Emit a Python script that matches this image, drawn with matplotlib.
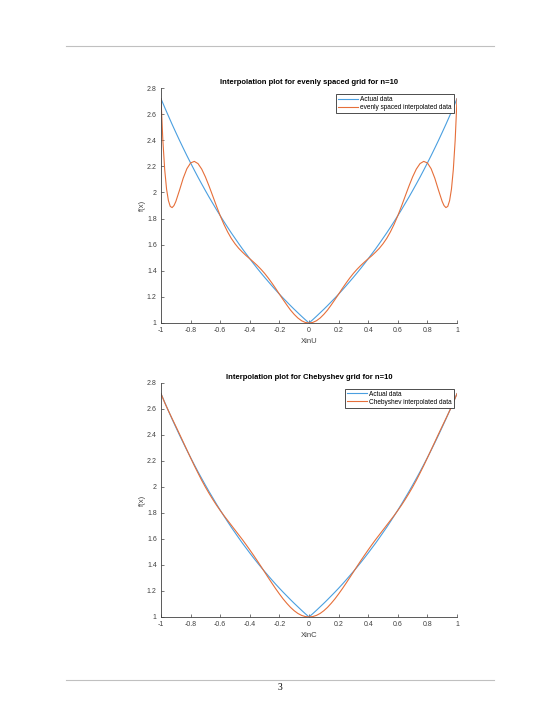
import matplotlib.pyplot as plt
from matplotlib.ticker import FuncFormatter

# sample positions for the actual function and the Chebyshev interpolant
x_fine = [-1.0, -0.975, -0.95, -0.925, -0.9, -0.875, -0.85, -0.825, -0.8, -0.775,
          -0.75, -0.725, -0.7, -0.675, -0.65, -0.625, -0.6, -0.575, -0.55, -0.525,
          -0.5, -0.475, -0.45, -0.425, -0.4, -0.375, -0.35, -0.325, -0.3, -0.275,
          -0.25, -0.225, -0.2, -0.175, -0.15, -0.125, -0.1, -0.075, -0.05, -0.025,
          0.0, 0.025, 0.05, 0.075, 0.1, 0.125, 0.15, 0.175, 0.2, 0.225,
          0.25, 0.275, 0.3, 0.325, 0.35, 0.375, 0.4, 0.425, 0.45, 0.475,
          0.5, 0.525, 0.55, 0.575, 0.6, 0.625, 0.65, 0.675, 0.7, 0.725,
          0.75, 0.775, 0.8, 0.825, 0.85, 0.875, 0.9, 0.925, 0.95, 0.975, 1.0]

actual = [2.718, 2.651, 2.586, 2.522, 2.460, 2.399, 2.340, 2.282, 2.226, 2.171,
          2.117, 2.065, 2.014, 1.964, 1.916, 1.868, 1.822, 1.777, 1.733, 1.690,
          1.649, 1.608, 1.568, 1.530, 1.492, 1.455, 1.419, 1.384, 1.350, 1.317,
          1.284, 1.252, 1.221, 1.191, 1.162, 1.133, 1.105, 1.078, 1.051, 1.025,
          1.000, 1.025, 1.051, 1.078, 1.105, 1.133, 1.162, 1.191, 1.221, 1.252,
          1.284, 1.317, 1.350, 1.384, 1.419, 1.455, 1.492, 1.530, 1.568, 1.608,
          1.649, 1.690, 1.733, 1.777, 1.822, 1.868, 1.916, 1.964, 2.014, 2.065,
          2.117, 2.171, 2.226, 2.282, 2.340, 2.399, 2.460, 2.522, 2.586, 2.651, 2.718]

cheb_interp = [2.718, 2.648, 2.586, 2.526, 2.467, 2.407, 2.346, 2.285, 2.224, 2.164,
               2.107, 2.051, 1.999, 1.950, 1.904, 1.860, 1.819, 1.780, 1.743, 1.706,
               1.669, 1.632, 1.595, 1.556, 1.516, 1.475, 1.433, 1.390, 1.346, 1.302,
               1.259, 1.217, 1.177, 1.139, 1.105, 1.074, 1.048, 1.027, 1.012, 1.003,
               1.000, 1.003, 1.012, 1.027, 1.048, 1.074, 1.105, 1.139, 1.177, 1.217,
               1.259, 1.302, 1.346, 1.390, 1.433, 1.475, 1.516, 1.556, 1.595, 1.632,
               1.669, 1.706, 1.743, 1.780, 1.819, 1.860, 1.904, 1.950, 1.999, 2.051,
               2.107, 2.164, 2.224, 2.285, 2.346, 2.407, 2.467, 2.526, 2.586, 2.648, 2.718]

# evenly spaced interpolant, sampled a bit finer near the ends
x_even = [-1.0, -0.9875, -0.975, -0.9625, -0.95, -0.9375, -0.925, -0.9125, -0.9,
          -0.875, -0.85, -0.825, -0.8, -0.775, -0.75, -0.725, -0.7, -0.675, -0.65,
          -0.625, -0.6, -0.575, -0.55, -0.525, -0.5, -0.475, -0.45, -0.425, -0.4,
          -0.375, -0.35, -0.325, -0.3, -0.275, -0.25, -0.225, -0.2, -0.175, -0.15,
          -0.125, -0.1, -0.075, -0.05, -0.025, 0.0, 0.025, 0.05, 0.075, 0.1,
          0.125, 0.15, 0.175, 0.2, 0.225, 0.25, 0.275, 0.3, 0.325, 0.35,
          0.375, 0.4, 0.425, 0.45, 0.475, 0.5, 0.525, 0.55, 0.575, 0.6,
          0.625, 0.65, 0.675, 0.7, 0.725, 0.75, 0.775, 0.8, 0.825, 0.85, 0.875,
          0.9, 0.9125, 0.925, 0.9375, 0.95, 0.9625, 0.975, 0.9875, 1.0]

even_interp = [2.718, 2.399, 2.175, 2.026, 1.938, 1.893, 1.884, 1.899, 1.930,
               2.017, 2.109, 2.182, 2.226, 2.238, 2.221, 2.179, 2.119, 2.048, 1.972,
               1.895, 1.822, 1.756, 1.698, 1.648, 1.607, 1.572, 1.543, 1.516, 1.492,
               1.467, 1.441, 1.412, 1.380, 1.344, 1.305, 1.264, 1.221, 1.179, 1.138,
               1.099, 1.066, 1.038, 1.017, 1.004, 1.000, 1.004, 1.017, 1.038, 1.066,
               1.099, 1.138, 1.179, 1.221, 1.264, 1.305, 1.344, 1.380, 1.412, 1.441,
               1.467, 1.492, 1.516, 1.543, 1.572, 1.607, 1.648, 1.698, 1.756, 1.822,
               1.895, 1.972, 2.048, 2.119, 2.179, 2.221, 2.238, 2.226, 2.182, 2.109, 2.017,
               1.930, 1.899, 1.884, 1.893, 1.938, 2.026, 2.175, 2.399, 2.718]

x_ticks = [-1, -0.8, -0.6, -0.4, -0.2, 0, 0.2, 0.4, 0.6, 0.8, 1]
y_ticks = [1, 1.2, 1.4, 1.6, 1.8, 2, 2.2, 2.4, 2.6, 2.8]

blue = "#4a9fe0"
orange = "#e66f3a"
axis_col = "#404040"

plt.rcParams["font.family"] = ["Liberation Sans", "DejaVu Sans"]

fig = plt.figure(figsize=(5.6, 7.25), dpi=100)

fmt = FuncFormatter(lambda v, p: "%g" % round(v, 2))


def style(ax, title, xlabel, interp_x, interp_y, label):
    ax.plot(x_fine, actual, color=blue, lw=0.8, label="Actual data")
    ax.plot(interp_x, interp_y, color=orange, lw=0.8, label=label)
    ax.set_xlim(-1, 1)
    ax.set_ylim(1, 2.8)
    ax.set_xticks(x_ticks)
    ax.set_yticks(y_ticks)
    ax.xaxis.set_major_formatter(fmt)
    ax.yaxis.set_major_formatter(fmt)
    for s in ["top", "right"]:
        ax.spines[s].set_visible(False)
    for s in ["left", "bottom"]:
        ax.spines[s].set_color(axis_col)
        ax.spines[s].set_linewidth(0.6)
    ax.tick_params(direction="in", length=2.5, width=0.5, colors=axis_col,
                   labelsize=5, pad=3)
    ax.set_title(title, fontsize=5.5, fontweight="bold", pad=3)
    ax.set_xlabel(xlabel, fontsize=5.5, color=axis_col, labelpad=3)
    ax.set_ylabel("f(x)", fontsize=5.5, color=axis_col, labelpad=1)
    leg = ax.legend(loc="upper right", bbox_to_anchor=(0.99, 0.975),
                    fontsize=4.7, fancybox=False, framealpha=1,
                    handlelength=3.0, handletextpad=0.4, borderpad=0.3,
                    labelspacing=0.15, borderaxespad=0)
    leg.get_frame().set_edgecolor("#303030")
    leg.get_frame().set_linewidth(0.6)


ax1 = fig.add_axes([0.2875, 0.5545, 0.5286, 0.3241])
style(ax1, "Interpolation plot for evenly spaced grid for n=10", "XinU",
      x_even, even_interp, "evenly spaced interpolated data")

ax2 = fig.add_axes([0.2875, 0.149, 0.5286, 0.3228])
style(ax2, "Interpolation plot for Chebyshev grid for n=10", "XinC",
      x_fine, cheb_interp, "Chebyshev interpolated data")

# page decoration: header/footer rules and page number
fig.add_artist(plt.Line2D([66 / 560, 494 / 560], [1 - 46 / 725, 1 - 46 / 725],
                          color="#c0c0c0", lw=0.8))
fig.add_artist(plt.Line2D([66 / 560, 494 / 560], [1 - 680 / 725, 1 - 680 / 725],
                          color="#c0c0c0", lw=0.8))
fig.text(280 / 560, 1 - 687 / 725, "3", ha="center", va="center", fontsize=7,
         family=["Liberation Serif", "DejaVu Serif"])

fig.savefig("out.png", dpi=100)
